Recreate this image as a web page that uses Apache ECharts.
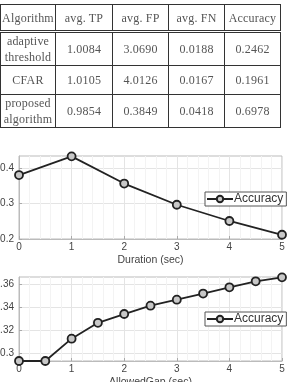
<!DOCTYPE html>
<html>
<head>
<meta charset="utf-8">
<script src="https://cdn.jsdelivr.net/npm/echarts@6/dist/echarts.min.js"></script>
<style>
html,body{margin:0;padding:0;background:#fff;width:287px;height:382px;overflow:hidden;}
#tbl{position:absolute;left:0;top:4px;width:281px;table-layout:fixed;border-collapse:collapse;font-family:"Liberation Serif","DejaVu Serif",serif;font-size:12px;color:#555;letter-spacing:0.2px;}
#tbl td{border:1px solid #333;text-align:center;padding:0;line-height:16px;white-space:nowrap;overflow:visible;}
#tbl tr.h td{border-bottom:3px double #333;}
#chart{position:absolute;left:0;top:0;width:287px;height:382px;}
</style>
</head>
<body>
<div id="chart"></div>
<table id="tbl"></table>
<script>
// ---- table data ----
const tableHeader = ["Algorithm", "avg. TP", "avg. FP", "avg. FN", "Accuracy"];
const tableAlgorithms = ["adaptive<br>threshold", "CFAR", "proposed<br>algorithm"];
const tableTP = ["1.0084", "1.0105", "0.9854"];
const tableFP = ["3.0690", "4.0126", "0.3849"];
const tableFN = ["0.0188", "0.0167", "0.0418"];
const tableAcc = ["0.2462", "0.1961", "0.6978"];

// ---- chart 1 data ----
const durationX = [0, 1, 2, 3, 4, 5];
const durationAcc = [0.381, 0.434, 0.357, 0.297, 0.251, 0.212];
const durationYTicks = [0.2, 0.3, 0.4];

// ---- chart 2 data ----
const gapX = [0, 0.5, 1, 1.5, 2, 2.5, 3, 3.5, 4, 4.5, 5];
const gapAcc = [0.2937, 0.2937, 0.313, 0.3267, 0.3343, 0.3415, 0.3467, 0.352, 0.3574, 0.3626, 0.366];
const gapYTicks = [0.30, 0.32, 0.34, 0.36];

// build table
const colW = [55, 57, 56, 56, 56];
const rowH = [27, 31, 29, 30];
const tbl = document.getElementById('tbl');
let html = '<colgroup>' + colW.map(w => '<col style="width:' + w + 'px">').join('') + '</colgroup>';
html += '<tr class="h" style="height:' + rowH[0] + 'px">' + tableHeader.map(h => '<td>' + h + '</td>').join('') + '</tr>';
for (let r = 0; r < tableAlgorithms.length; r++) {
  html += '<tr style="height:' + rowH[r + 1] + 'px"><td>' + tableAlgorithms[r] + '</td><td>' + tableTP[r] + '</td><td>' + tableFP[r] + '</td><td>' + tableFN[r] + '</td><td>' + tableAcc[r] + '</td></tr>';
}
tbl.innerHTML = html;

const chart = echarts.init(document.getElementById('chart'));
const axisFont = { fontFamily: 'Liberation Sans, Arial, sans-serif', fontSize: 10, color: '#444' };
const gridLine = { show: true, lineStyle: { color: '#e4e4e4', width: 1 } };
const minorLine = { show: true, lineStyle: { color: '#f3f3f3', width: 1 } };

function xAxisDef(gridIndex, name) {
  return {
    type: 'value', gridIndex, min: 0, max: 5, interval: 1,
    name, nameLocation: 'middle', nameGap: 16,
    nameTextStyle: Object.assign({}, axisFont, { fontSize: 10.5 }),
    axisLine: { show: true, onZero: false, lineStyle: { color: '#bbb' } },
    axisTick: { show: true, inside: true, length: 3, lineStyle: { color: '#aaa' } },
    axisLabel: Object.assign({ margin: 3 }, axisFont),
    splitLine: gridLine,
    minorTick: { show: false, splitNumber: 5 },
    minorSplitLine: minorLine
  };
}
function yAxisDef(gridIndex, min, max, ticks, fmt) {
  return {
    type: 'value', gridIndex, min, max,
    axisLine: { show: true, lineStyle: { color: '#bbb' } },
    axisTick: { show: true, inside: true, length: 3, customValues: ticks, lineStyle: { color: '#aaa' } },
    axisLabel: Object.assign({ margin: 5, customValues: ticks, formatter: fmt }, axisFont),
    splitLine: gridLine
  };
}

function legendDef(top) {
  return { left: 205, top, itemWidth: 26, itemHeight: 8, itemGap: 0, padding: [1, 3, 1, 1],
    borderColor: '#555', borderWidth: 1, backgroundColor: '#fff', data: ['Accuracy'],
    textStyle: { fontFamily: 'Liberation Sans, Arial, sans-serif', fontSize: 12, color: '#333', padding: [0, 0, 0, -4] } };
}

const option = {
  animation: false,
  backgroundColor: 'transparent',
  grid: [
    { left: 19, top: 156, width: 263, height: 83, show: true, borderColor: '#bbb', borderWidth: 1, backgroundColor: '#fff', outerBoundsMode: 'none', containLabel: false },
    { left: 19, top: 277, width: 263, height: 84, show: true, borderColor: '#bbb', borderWidth: 1, backgroundColor: '#fff', outerBoundsMode: 'none', containLabel: false }
  ],
  xAxis: [xAxisDef(0, 'Duration (sec)'), xAxisDef(1, 'AllowedGap (sec)')],
  yAxis: [
    yAxisDef(0, 0.2, 0.435, durationYTicks, v => v.toFixed(1)),
    yAxisDef(1, 0.2937, 0.3663, gapYTicks, v => (Math.abs(v - 0.3) < 1e-6 ? '0.3' : v.toFixed(2)))
  ],
  legend: [legendDef(192), legendDef(312)],
  series: [
    { name: 'Accuracy', type: 'line', xAxisIndex: 0, yAxisIndex: 0,
      data: durationX.map((x, i) => [x, durationAcc[i]]),
      symbol: 'circle', symbolSize: 8, showAllSymbol: true,
      lineStyle: { color: '#222', width: 1.8 },
      itemStyle: { color: '#c8c8c8', borderColor: '#222', borderWidth: 1.8 } },
    { name: 'Accuracy', type: 'line', xAxisIndex: 1, yAxisIndex: 1,
      data: gapX.map((x, i) => [x, gapAcc[i]]),
      symbol: 'circle', symbolSize: 8, showAllSymbol: true,
      lineStyle: { color: '#222', width: 1.8 },
      itemStyle: { color: '#c8c8c8', borderColor: '#222', borderWidth: 1.8 } }
  ]
};
chart.setOption(option);
</script>
</body>
</html>
